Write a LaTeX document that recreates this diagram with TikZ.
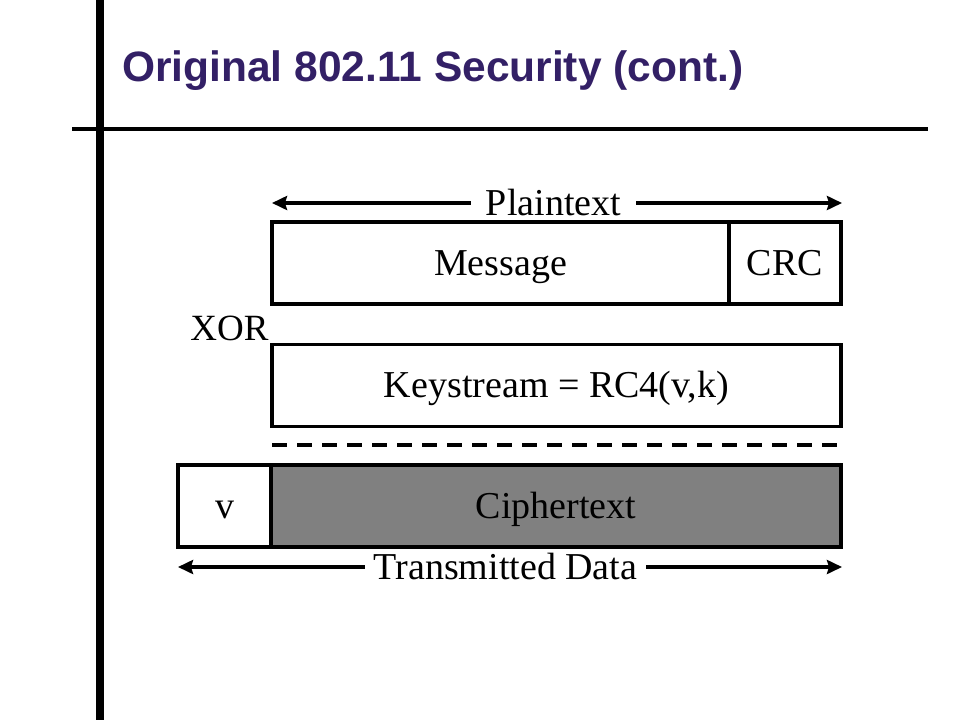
\documentclass[tikz,border=0pt]{standalone}
\usepackage{fontspec}
\setmainfont{Liberation Serif}
\newfontfamily\titlefont{Liberation Sans}
\usetikzlibrary{arrows.meta}
\definecolor{titlepurple}{RGB}{51,32,102}
\definecolor{ciphergray}{RGB}{128,128,128}
\begin{document}
\begin{tikzpicture}[x=1pt,y=-1pt,
  box/.style={draw, line width=3.5pt, minimum height=82pt, inner sep=0pt,
    font=\fontsize{38}{40}\selectfont, text height=26pt, text depth=2pt},
  lbl/.style={font=\fontsize{38}{40}\selectfont, inner xsep=15pt, inner ysep=0pt,
    text height=26pt, text depth=2pt},
  dimarrow/.style={line width=3.3pt, -{Stealth[length=15pt,width=14pt,inset=2pt]}},
  rule/.style={line width=4pt},
]
\useasboundingbox (0,0) rectangle (960,720);
\fill[white] (0,0) rectangle (960,720);
% slide frame
\coordinate (vtop) at (100,0);
\coordinate (vbot) at (100,720);
\coordinate (hl) at (72,128.5);
\coordinate (hr) at (928,128.5);
\draw[line width=8pt] (vtop) -- (vbot);
\draw[rule] (hl) -- (hr);
\node[anchor=base west, inner sep=0pt, text=titlepurple,
  font=\titlefont\bfseries\fontsize{42.5}{48}\selectfont] (title) at (122,81)
  {Original 802.11 Security (cont.)};
% plaintext
\node[lbl] (plabel) at (553.5,203) {Plaintext};
\coordinate (pl) at (272,203);
\coordinate (pr) at (842,203);
\draw[dimarrow] (plabel.west) -- (pl);
\draw[dimarrow] (plabel.east) -- (pr);
\node[box, minimum width=457pt] (msg) at (500.5,263) {Message};
\node[box, minimum width=112pt] (crc) at (785,263) {CRC};
% XOR
\node[anchor=base, inner sep=0pt, font=\fontsize{37}{40}\selectfont] (xor) at (229.5,340) {XOR};
\node[box, minimum width=569pt] (key) at (556.5,385.5) {Keystream = RC4(v,k)};
% dashed separator
\coordinate (dl) at (272,445);
\coordinate (dr) at (841,445);
\draw[line width=4pt, dash pattern=on 15pt off 10pt] (dl) -- (dr);
% transmitted
\node[box, fill=ciphergray, minimum width=570pt] (ciph) at (556,506) {Ciphertext};
\node[box, fill=white, minimum width=93pt] (v) at (224.5,506) {v};
\node[lbl, inner xsep=9pt] (tlabel) at (505.5,567) {Transmitted Data};
\coordinate (tl) at (178,567);
\coordinate (tr) at (842,567);
\draw[dimarrow] (tlabel.west) -- (tl);
\draw[dimarrow] (tlabel.east) -- (tr);
\end{tikzpicture}
\end{document}
